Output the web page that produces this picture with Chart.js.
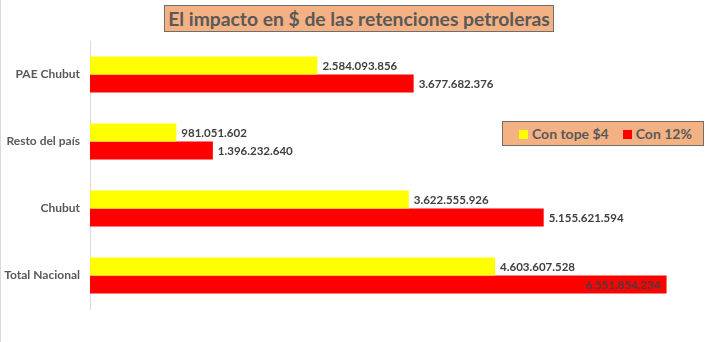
<!DOCTYPE html>
<html>
<head>
<meta charset="utf-8">
<script src="https://cdn.jsdelivr.net/npm/chart.js@4/dist/chart.umd.min.js"></script>
<style>
  body { margin: 0; background: #fff; }
  #wrap { position: relative; width: 714px; height: 342px; border-left: 1px solid #d9d9d9; box-sizing: border-box; }
  #chart { position: absolute; left: 0; top: 0; }
  .box {
    position: absolute; background: #f4b183; border: 1px solid #6e6e6e;
    font-family: Lato, "Liberation Sans", sans-serif; font-weight: bold; color: #595959;
    box-sizing: border-box; white-space: nowrap;
  }
  #title { left: 163px; top: 5px; width: 390px; height: 27px; font-size: 19.3px; line-height: 25px; text-align: center; }
  #legend { left: 501px; top: 121px; width: 202px; height: 25px; font-size: 14px; line-height: 23px; padding-left: 16px; }
  .sw { display: inline-block; width: 9px; height: 9px; margin-right: 4px; vertical-align: 0px; }
</style>
</head>
<body>
<div id="wrap">
  <canvas id="chart" width="713" height="342"></canvas>
  <div id="title" class="box">El impacto en $ de las retenciones petroleras</div>
  <div id="legend" class="box"></div>
</div>
<script>
const categories = ['PAE Chubut', 'Resto del país', 'Chubut', 'Total Nacional'];
const seriesNames = ['Con tope $4', 'Con 12%'];
const conTope4 = [2584093856, 981051602, 3622555926, 4603607528];
const con12 = [3677682376, 1396232640, 5155621594, 6551854234];
const colors = ['#ffff00', '#ff0000'];

function fmt(v) {
    return String(v).replace(/\B(?=(\d{3})+(?!\d))/g, '.');
}

// legend box
document.getElementById('legend').innerHTML = seriesNames.map(function (n, i) {
    return '<span class="sw" style="background:' + colors[i] + '"></span>' + n;
}).join('<span style="display:inline-block;width:14px"></span>');

// value labels at the end of each bar
const barLabels = {
    id: 'barLabels',
    afterDatasetsDraw(chart) {
        const ctx = chart.ctx;
        ctx.save();
        ctx.font = 'bold 11.5px Lato, "Liberation Sans", sans-serif';
        ctx.fillStyle = '#404040';
        ctx.textBaseline = 'middle';
        chart.data.datasets.forEach(function (ds, di) {
            chart.getDatasetMeta(di).data.forEach(function (bar, i) {
                const txt = fmt(ds.data[i]);
                const w = ctx.measureText(txt).width;
                if (bar.x + 5 + w > chart.chartArea.right) {
                    ctx.textAlign = 'right';
                    ctx.fillText(txt, bar.x - 6, bar.y + 1);
                } else {
                    ctx.textAlign = 'left';
                    ctx.fillText(txt, bar.x + 5, bar.y + 1);
                }
            });
        });
        ctx.restore();
    }
};

new Chart(document.getElementById('chart').getContext('2d'), {
    type: 'bar',
    data: {
        labels: categories,
        datasets: [
            { label: seriesNames[0], data: conTope4, backgroundColor: colors[0] },
            { label: seriesNames[1], data: con12, backgroundColor: colors[1] }
        ]
    },
    options: {
        indexAxis: 'y',
        responsive: false,
        animation: false,
        categoryPercentage: 0.54,
        barPercentage: 1,
        layout: { padding: { top: 41, bottom: 33, right: 8 } },
        plugins: { legend: { display: false }, tooltip: { enabled: false } },
        scales: {
            x: { display: false, min: 0, max: 7000000000 },
            y: {
                grid: { display: false, drawTicks: false },
                border: { color: '#d9d9d9' },
                ticks: {
                    padding: 10,
                    color: '#595959',
                    font: { family: 'Lato, "Liberation Sans", sans-serif', size: 12, weight: 'bold' }
                },
                afterFit: function (scale) { scale.width = 89; }
            }
        }
    },
    plugins: [barLabels]
});
</script>
</body>
</html>
